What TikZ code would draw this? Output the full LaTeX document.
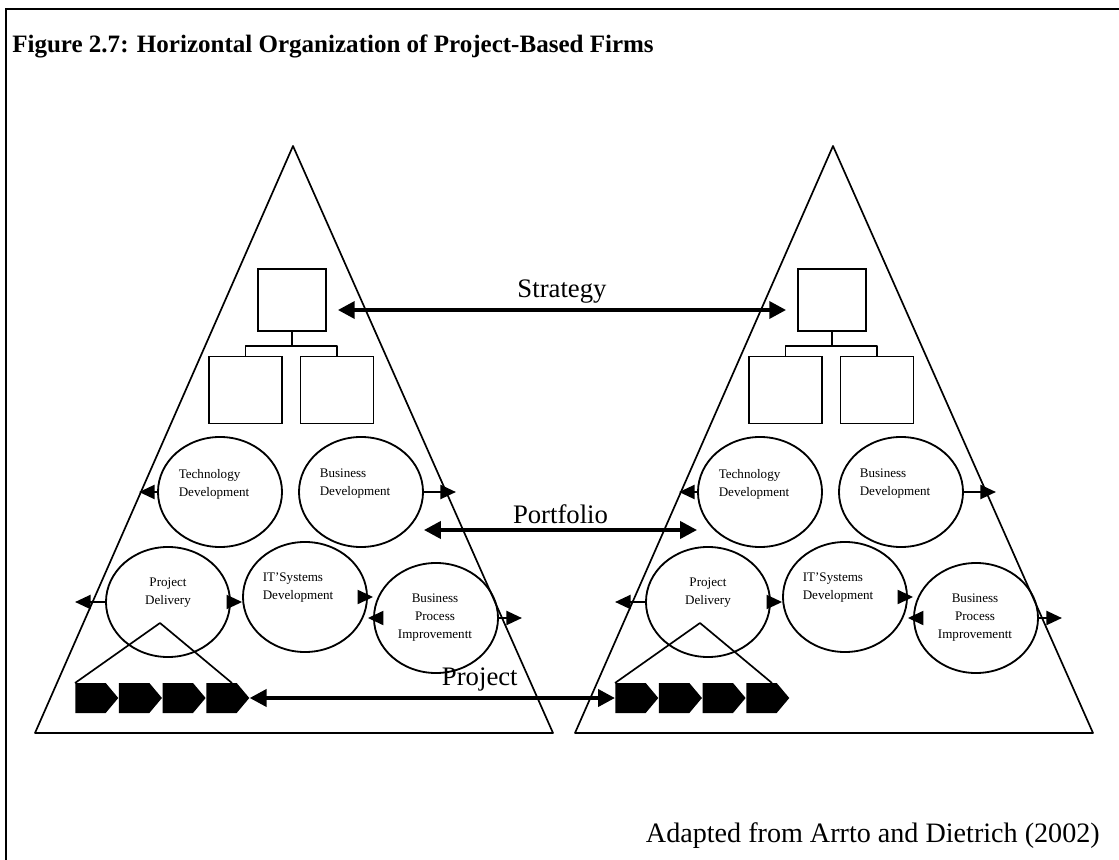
\documentclass[tikz,border=0pt]{standalone}
\usepackage{fontspec}
\setmainfont{Liberation Serif}
\usetikzlibrary{arrows.meta,shapes.geometric,shapes.symbols}

\tikzset{
  edge/.style={line width=1.2pt, line join=round},
  unit/.style={draw, line width=1.2pt, minimum width=1.825cm, minimum height=1.675cm, inner sep=0},
  area/.style={draw, ellipse, line width=1.3pt, minimum width=3.1cm, minimum height=2.75cm, inner sep=0},
  areatext/.style={font=\fontsize{9.3}{12.8}\selectfont, inner sep=0},
  tip/.style={line width=1.3pt, -{Triangle[length=11pt,width=10pt]}},
  bigarrow/.style={line width=2.8pt, {Triangle[length=12pt,width=12pt]}-{Triangle[length=12pt,width=12pt]}},
  chev/.style={signal, signal to=east, signal pointer angle=100, fill, minimum width=1.075cm, minimum height=0.75cm, inner sep=0, anchor=west},
  tag/.style={font=\fontsize{19}{22}\selectfont}
}

\begin{document}
\begin{tikzpicture}[x=0.025cm,y=-0.025cm]
\useasboundingbox (0,0) rectangle (1119,860);
\draw[line width=1.5pt] (1119,9) -- (6,9) -- (6,860);
\node[anchor=base west, inner sep=0, font=\bfseries\fontsize{17.8}{20}\selectfont] (title) at (12,53) {Figure 2.7: Horizontal Organization of Project-Based Firms};

\foreach \s/\dx in {L/0,R/540}{
\begin{scope}[shift={(\dx,0)}]
\draw[edge] (293,146) -- (35,733) -- (553,733) -- cycle;
% chart
\node[unit, minimum width=1.7cm, minimum height=1.55cm] (\s-top) at (292,300) {};
\node[unit] (\s-left) at (245.5,390) {};
\node[unit] (\s-right) at (337,390) {};
\draw[edge] (\s-top.south) -- ++(0,14) -| (\s-left.north);
\draw[edge] (\s-top.south) -- ++(0,14) -| (\s-right.north);
% units
\node[area] (\s-TD) at (220,492) {};
\node[area] (\s-BD) at (361,492) {};
\node[area] (\s-PD) at (168,602) {};
\node[area] (\s-IT) at (305,597) {};
\node[area] (\s-BPI) at (436,618) {};
\node[areatext, align=left] (\s-TDt) at (214,484) {Technology\\Development};
\node[areatext, align=left] (\s-BDt) at (355,484) {Business\\Development};
\node[areatext, align=center] (\s-PDt) at (168,593) {Project\\Delivery};
\node[areatext, align=left] (\s-ITt) at (298,588) {IT'Systems\\Development};
\node[areatext, align=center] (\s-BPIt) at (435,618) {Business\\Process\\Improvementt};
\draw[tip] (\s-TD.west) -- ++(-18,0);
\draw[tip] (\s-BD.east) -- ++(32,0);
\draw[tip] (\s-PD.west) -- ++(-30,0);
\draw[tip] (\s-PD.east) -- (\s-PD.east -| \s-IT.west);
\draw[tip] (\s-IT.east) -- (\s-IT.east -| \s-BPI.west);
\draw[tip] (\s-BPI.west) -- (\s-BPI.west -| \s-IT.east);
\draw[tip] (\s-BPI.east) -- ++(23,0);
% projects
\node[chev] (\s-c1) at (75,698) {};
\node[chev] (\s-c2) at (\s-c1.east) {};
\node[chev] (\s-c3) at (\s-c2.east) {};
\node[chev] (\s-c4) at (\s-c3.east) {};
\draw[edge] ([shift={(0,-15)}]\s-c1.west) -- ([shift={(-8,21)}]\s-PD.center) -- ([shift={(26,-15)}]\s-c4.west);
\end{scope}
}

\draw[bigarrow] ([shift={(11,10)}]L-top.east) -- ([shift={(-11,10)}]R-top.west) node[midway, above, tag] (strat) {Strategy};
\draw[bigarrow] ([shift={(0,38)}]L-BD.east) -- ([shift={(0,38)}]R-TD.west) node[midway, above, tag] (port) {Portfolio};
\draw[bigarrow] (L-c4.east) -- (R-c1.west) node[pos=.63, above, tag] (proj) {Project};

\node[anchor=base east, inner sep=0, tag, font=\fontsize{20}{23}\selectfont] (src) at (1100,842) {Adapted from Arrto and Dietrich (2002)};
\end{tikzpicture}
\end{document}
